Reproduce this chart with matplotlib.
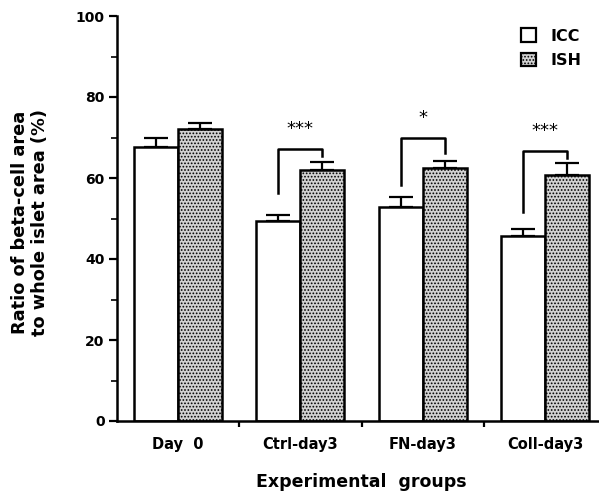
import numpy as np
import matplotlib
matplotlib.use('Agg')
from matplotlib import pyplot as plt
from matplotlib.patches import Patch

plt.rcParams['font.family'] = ['DejaVu Sans']
plt.rcParams['font.weight'] = 'bold'
plt.rcParams['hatch.color'] = '#3a3a3a'
plt.rcParams['hatch.linewidth'] = 0.8

# Data
groups = ['Day  0', 'Ctrl-day3', 'FN-day3', 'Coll-day3']
icc_mean = [67.7, 49.5, 52.8, 45.7]
icc_err = [2.2, 1.4, 2.5, 1.7]
ish_mean = [72.1, 62.0, 62.5, 60.8]
ish_err = [1.5, 2.0, 1.7, 2.9]

# significance brackets: group index, left leg bottom, top, right leg bottom, label
sig_groups = [1, 2, 3]
sig_left = [56.3, 58.3, 51.6]
sig_top = [67.2, 69.9, 66.7]
sig_right = [65.4, 66.2, 64.9]
sig_labels = ['***', '*', '***']

fig = plt.figure(figsize=(5.99, 4.93), dpi=100)
ax = fig.add_axes([117 / 599, 1 - 421 / 493, 483 / 599, 405 / 493])

ish_face = '#d2d2d2'
x = np.arange(len(groups))
w = 0.36
ax.bar(x - w / 2, icc_mean, w, color='white', edgecolor='black', linewidth=1.8, zorder=2)
ax.bar(x + w / 2, ish_mean, w, color=ish_face, edgecolor='black', linewidth=1.8,
       hatch='.....', zorder=2)
ax.errorbar(x - w / 2, icc_mean, yerr=[np.zeros(4), icc_err], fmt='none', ecolor='black',
            elinewidth=1.6, capsize=8.5, capthick=1.6, zorder=1)
ax.errorbar(x + w / 2, ish_mean, yerr=[np.zeros(4), ish_err], fmt='none', ecolor='black',
            elinewidth=1.6, capsize=8.5, capthick=1.6, zorder=1)

for g, yl, yt, yr, lab in zip(sig_groups, sig_left, sig_top, sig_right, sig_labels):
    xl, xr = g - w / 2, g + w / 2
    ax.plot([xl, xl, xr, xr], [yl, yt, yt, yr], color='black', lw=1.8, zorder=3)
    ax.text(g, yt + 4.8, lab, ha='center', va='center', fontsize=13, fontweight='normal')

ax.set_ylim(0, 100)
ax.set_xlim(-0.5, 3.45)
ax.set_yticks(np.arange(0, 101, 20))
ax.set_yticks(np.arange(10, 100, 20), minor=True)
ax.set_xticks([0.5, 1.5, 2.5])
ax.set_xticklabels([])
for i, g in enumerate(groups):
    ax.text(i, -5.9, g, ha='center', va='center', fontsize=10.5, fontweight='bold')
ax.tick_params(axis='y', which='major', length=6, width=1.6, labelsize=10, pad=3)
ax.tick_params(axis='y', which='minor', length=4, width=1.2)
ax.tick_params(axis='x', which='major', length=4, width=1.6)
ax.spines['top'].set_visible(False)
ax.spines['right'].set_visible(False)
ax.spines['left'].set_linewidth(1.8)
ax.spines['bottom'].set_linewidth(1.8)

fig.text(30 / 599, 1 - 222 / 493, 'Ratio of beta-cell area\nto whole islet area (%)',
         rotation=90, ha='center', va='center', fontsize=12.8, fontweight='bold',
         linespacing=1.2)
fig.text(361 / 599, 1 - 482 / 493, 'Experimental  groups', ha='center', va='center',
         fontsize=12.5, fontweight='bold')

handles = [Patch(facecolor='white', edgecolor='black', linewidth=1.6),
           Patch(facecolor=ish_face, edgecolor='black', linewidth=1.6, hatch='.....')]
ax.legend(handles, ['ICC', 'ISH'], loc='upper left', bbox_to_anchor=(398 / 483, 0.985),
          frameon=False, fontsize=11.5, handlelength=0.9, handleheight=0.9,
          handletextpad=0.9, labelspacing=0.6, borderaxespad=0)

fig.savefig('out.png', dpi=100)
